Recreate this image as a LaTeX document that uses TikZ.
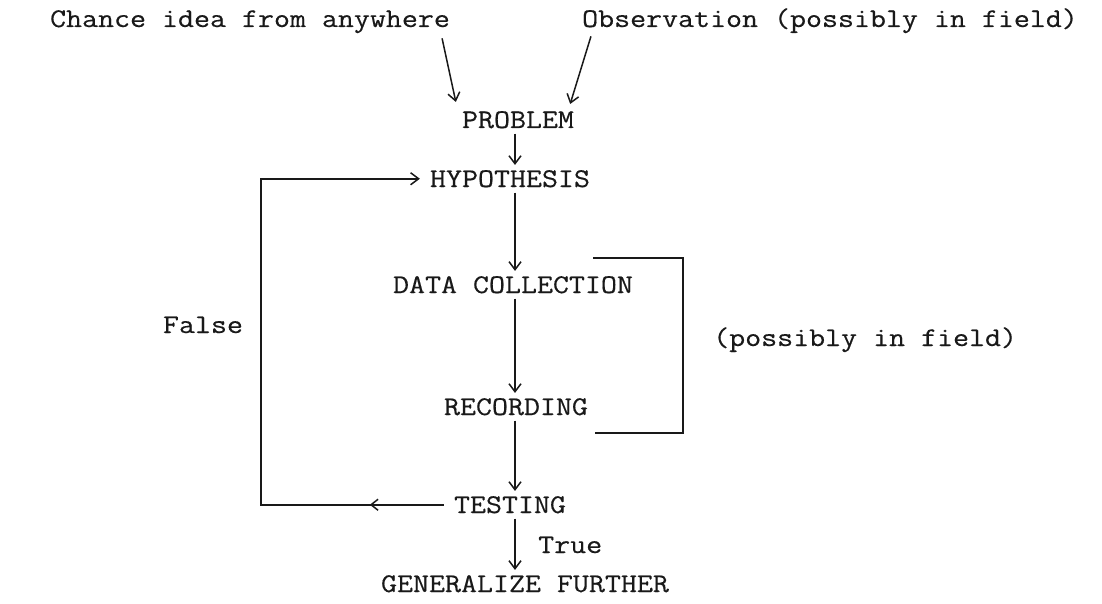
\documentclass[tikz,border=0pt]{standalone}
\usepackage{fontspec}
\newfontfamily\typer[FakeStretch=1.15,FakeBold=0.4]{Latin Modern Mono}
\usetikzlibrary{arrows.meta,decorations.markings}

\begin{document}
\begin{tikzpicture}[x=1pt,y=-1pt,
  lbl/.style={font=\typer\fontsize{27}{27}\selectfont, anchor=base,
              inner xsep=10pt, inner ysep=5pt, text=black!90},
  wire/.style={line width=1.5pt, draw=black!90},
  link/.style={wire, -{Straight Barb[length=8pt,width=12pt]}},
  backarrow/.style={link, postaction={decorate}, decoration={markings,
     mark=at position 74pt with {\arrow{Straight Barb[length=7pt,width=11pt]}}}},
  ]
  \fill[white] (0,0) rectangle (1102,604);
  \useasboundingbox (0,0) rectangle (1102,604);

  % axis of the main column and the x of the feedback loop
  \coordinate (axis) at (515,0);
  \coordinate (loopx) at (261,0);

  % sources
  \node[lbl] (chance) at (250,27) {Chance idea from anywhere};
  \node[lbl] (observ) at (830,27) {Observation (possibly in field)};

  % main sequence
  \node[lbl] (problem)    at (518,128) {PROBLEM};
  \node[lbl] (hypothesis) at (510,187) {HYPOTHESIS};
  \node[lbl] (datacoll)   at (513,293) {DATA COLLECTION};
  \node[lbl] (recording)  at (516,415) {RECORDING};
  \node[lbl] (testing)    at (510,513) {TESTING};
  \node[lbl] (general)    at (525,592) {GENERALIZE FURTHER};

  % side labels
  \node[lbl] (false)    at (203,333) {False};
  \node[lbl, anchor=base west, inner xsep=0pt] (field) at (713,346) {(possibly in field)};
  \node[lbl, anchor=base west, inner xsep=0pt] (true)  at (538,553) {True};

  % inputs to the problem
  \draw[link] ([xshift=-18pt]chance.south east) -- ([xshift=4pt,yshift=4pt]problem.north west);
  \draw[link] ([xshift=19pt,yshift=2pt]observ.south west) -- ([xshift=-14pt,yshift=2pt]problem.north east);

  % downward chain
  \draw[link] (problem.south -| axis)    -- (hypothesis.north -| axis);
  \draw[link] (hypothesis.south -| axis) -- (datacoll.north -| axis);
  \draw[link] (datacoll.south -| axis)   -- (recording.north -| axis);
  \draw[link] (recording.south -| axis)  -- (testing.north -| axis);
  \draw[link] (testing.south -| axis)    -- (general.north -| axis);

  % feedback when the test is false
  \draw[backarrow] (testing.west) -- (testing.west -| loopx) |- (hypothesis.west);

  % bracket around the field work
  \coordinate (brtop) at (593,258);
  \coordinate (brbot) at (595,433);
  \coordinate (brx)   at (683,0);
  \draw[wire] (brtop) -- (brtop -| brx) -- (brbot -| brx) -- (brbot);
\end{tikzpicture}
\end{document}
